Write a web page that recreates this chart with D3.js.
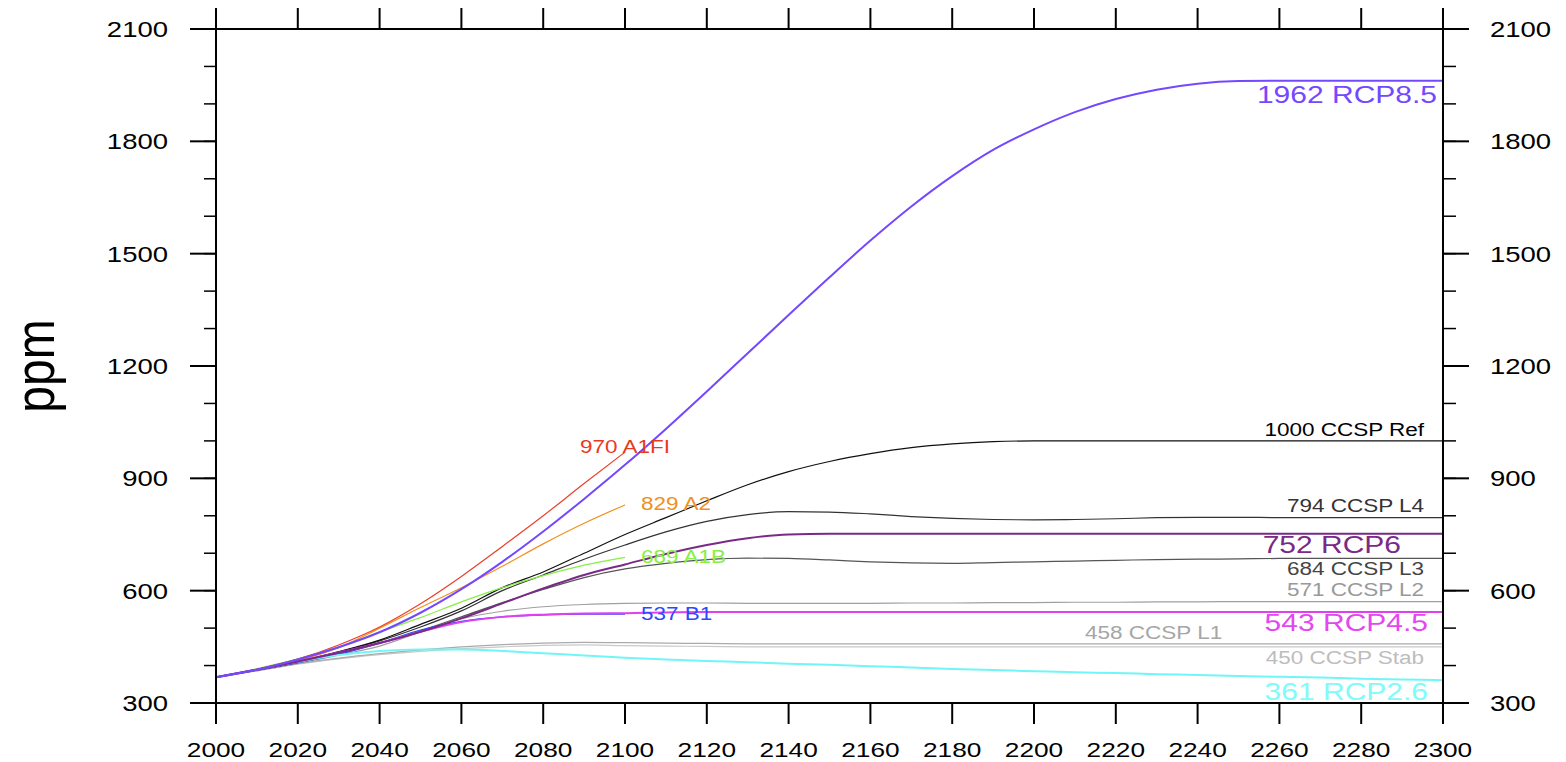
<!DOCTYPE html>
<html>
<head>
<meta charset="utf-8">
<script src="https://cdn.jsdelivr.net/npm/d3@7"></script>
<style>
html,body{margin:0;padding:0;background:#fff;}
svg{display:block;}
text{font-family:"Liberation Sans", Arial, Helvetica, sans-serif;}
</style>
</head>
<body>
<svg id="chart" width="1566" height="762"></svg>
<script>
// ---------------- data ----------------
const yearsShort = [2000,2010,2020,2030,2040,2050,2060,2070,2080,2090,2100];
const yearsLong = d3.range(2000, 2301, 10);

const ccspStab = [369,386,404,418,429,438,445,450,454,455,453,452,451,450,450,450,450,450,450,450,450,450,450,450,450,450,450,450,450,450,450];
const ccspL1   = [369,386,405,420,432,442,450,456,460,462,461,460,459,458,458,458,458,458,458,458,458,458,458,458,458,458,458,458,458,458,458];
const ccspL2   = [369,387,406,428,452,490,525,545,557,563,566,567,567,566,566,566,566,567,567,568,568,569,569,570,570,571,571,571,571,571,571];
const ccspL3   = [369,388,408,432,460,493,530,568,603,635,658,673,683,687,686,682,677,674,673,675,677,679,681,683,684,685,686,686,686,686,686];
const ccspL4   = [369,388,410,436,466,503,546,600,642,684,722,757,785,803,811,810,805,798,793,790,789,790,792,795,796,796,795,795,795,795,795];
const ccspRef  = [369,388,410,437,468,510,553,608,650,700,750,795,840,883,918,945,966,982,992,998,1000,1000,1000,1000,1000,1000,1000,1000,1000,1000,1000];

const sresB1   = [369,388,408,430,460,495,518,530,535,537,537];
const sresA1B  = [369,392,418,450,490,528,570,608,640,668,689];
const sresA2   = [369,388,413,448,500,555,608,665,725,780,829];
const sresA1FI = [369,390,417,455,503,565,638,718,800,886,970];

const rcp26 = [369,389,410,428,439,443,443,439,433,427,421,416,412,409,405,402,398,395,391,388,385,382,380,377,375,372,370,368,365,363,361];
const rcp45 = [369,389,411,435,460,490,516,530,536,539,540,542,543,543,543,543,543,543,543,543,543,543,543,543,543,543,543,543,543,543,543];
const rcp60 = [369,389,411,434,460,490,526,566,606,642,670,698,722,740,750,752,752,752,752,752,752,752,752,752,752,752,752,752,752,752,752];
const rcp85 = [369,389,416,449,489,541,604,677,758,845,936,1032,1132,1234,1336,1437,1535,1626,1707,1777,1832,1878,1913,1938,1954,1961,1962,1962,1962,1962,1962];

const xTicks = d3.range(2000, 2301, 20);
const yTicks = [300,600,900,1200,1500,1800,2100];
const yMinor = d3.range(300, 2101, 100);

const seriesNames = ["450 CCSP Stab","458 CCSP L1","571 CCSP L2","684 CCSP L3","794 CCSP L4","1000 CCSP Ref",
  "537 B1","689 A1B","829 A2","970 A1FI","361 RCP2.6","543 RCP4.5","752 RCP6","1962 RCP8.5"];

// ---------------- layout ----------------
const svg = d3.select("#chart");
const L = 216, R = 1443, T = 29, B = 703;
const x = d3.scaleLinear().domain([2000, 2300]).range([L, R]);
const y = d3.scaleLinear().domain([300, 2100]).range([B, T]);
const SX = 1.25; // horizontal text stretch

const series = [
  {name: seriesNames[0],  years: yearsLong,  vals: ccspStab, color: "#c9c9c9", w: 1.2, lc: "#bdbdbd", fs: 18, anchor: "end",   lx: 2300, dx: -19, dy: 17},
  {name: seriesNames[1],  years: yearsLong,  vals: ccspL1,   color: "#aaaaaa", w: 1.2, lc: "#a6a6a6", fs: 18, anchor: "end",   lx: 2246, dx: 0,   dy: -5},
  {name: seriesNames[2],  years: yearsLong,  vals: ccspL2,   color: "#a0a0a0", w: 1.2, lc: "#999999", fs: 18, anchor: "end",   lx: 2300, dx: -19, dy: -6},
  {name: seriesNames[3],  years: yearsLong,  vals: ccspL3,   color: "#555555", w: 1.2, lc: "#444444", fs: 18, anchor: "end",   lx: 2300, dx: -19, dy: 17},
  {name: seriesNames[4],  years: yearsLong,  vals: ccspL4,   color: "#333333", w: 1.2, lc: "#333333", fs: 18, anchor: "end",   lx: 2300, dx: -19, dy: -6},
  {name: seriesNames[5],  years: yearsLong,  vals: ccspRef,  color: "#111111", w: 1.2, lc: "#000000", fs: 18, anchor: "end",   lx: 2300, dx: -19, dy: -5},
  {name: seriesNames[6],  years: yearsShort, vals: sresB1,   color: "#2a48ff", w: 1.2, lc: "#2a48ff", fs: 18, anchor: "start", lx: 2100, dx: 16,  dy: 6},
  {name: seriesNames[7],  years: yearsShort, vals: sresA1B,  color: "#88ee44", w: 1.2, lc: "#88ee44", fs: 18, anchor: "start", lx: 2100, dx: 16,  dy: 6},
  {name: seriesNames[8],  years: yearsShort, vals: sresA2,   color: "#f0901e", w: 1.2, lc: "#f0901e", fs: 18, anchor: "start", lx: 2100, dx: 16,  dy: 5},
  {name: seriesNames[9],  years: yearsShort, vals: sresA1FI, color: "#e8402a", w: 1.2, lc: "#e8391e", fs: 18, anchor: "start", lx: 2100, dx: -45, dy: 1},
  {name: seriesNames[10], years: yearsLong,  vals: rcp26,    color: "#70f6f6", w: 2,   lc: "#80fafa", fs: 24, anchor: "end",   lx: 2300, dx: -15, dy: 20},
  {name: seriesNames[11], years: yearsLong,  vals: rcp45,    color: "#e040f0", w: 2,   lc: "#e348f0", fs: 24, anchor: "end",   lx: 2300, dx: -15, dy: 19},
  {name: seriesNames[12], years: yearsLong,  vals: rcp60,    color: "#7a2a86", w: 2,   lc: "#7a2a86", fs: 24, anchor: "end",   lx: 2300, dx: -42, dy: 19},
  {name: seriesNames[13], years: yearsLong,  vals: rcp85,    color: "#7448ff", w: 2,   lc: "#7448ff", fs: 24, anchor: "end",   lx: 2300, dx: -6,  dy: 22},
];

const line = d3.line().x(d => x(d[0])).y(d => y(d[1])).curve(d3.curveMonotoneX);

const gLines = svg.append("g");
series.forEach(s => {
  const pts = s.years.map((yr, i) => [yr, s.vals[i]]);
  gLines.append("path").datum(pts)
    .attr("d", line)
    .attr("fill", "none")
    .attr("stroke", s.color)
    .attr("stroke-width", s.w)
    .attr("stroke-linejoin", "round");
});

// labels
const gLab = svg.append("g");
series.forEach(s => {
  const last = s.vals[s.vals.length - 1];
  gLab.append("g")
    .attr("transform", `translate(${x(s.lx) + s.dx},${y(last) + s.dy}) scale(${SX},1)`)
    .append("text")
    .attr("text-anchor", s.anchor)
    .attr("font-size", s.fs)
    .attr("fill", s.lc)
    .text(s.name);
});

// ---------------- axes ----------------
const axG = svg.append("g").attr("stroke", "#000");
axG.append("rect").attr("x", L).attr("y", T).attr("width", R - L).attr("height", B - T)
  .attr("fill", "none").attr("stroke-width", 2);

xTicks.forEach(t => {
  axG.append("line").attr("x1", x(t)).attr("x2", x(t)).attr("y1", B).attr("y2", B + 21).attr("stroke-width", 2);
  axG.append("line").attr("x1", x(t)).attr("x2", x(t)).attr("y1", T).attr("y2", T - 21).attr("stroke-width", 2);
});
yMinor.forEach(t => {
  axG.append("line").attr("x1", L).attr("x2", L - 12).attr("y1", y(t)).attr("y2", y(t)).attr("stroke-width", 1.5);
  axG.append("line").attr("x1", R).attr("x2", R + 13).attr("y1", y(t)).attr("y2", y(t)).attr("stroke-width", 1.5);
});
yTicks.forEach(t => {
  axG.append("line").attr("x1", L).attr("x2", L - 26).attr("y1", y(t)).attr("y2", y(t)).attr("stroke-width", 2);
  axG.append("line").attr("x1", R).attr("x2", R + 26).attr("y1", y(t)).attr("y2", y(t)).attr("stroke-width", 2);
});

const tG = svg.append("g").attr("fill", "#000");
xTicks.forEach(t => {
  tG.append("g").attr("transform", `translate(${x(t)},757) scale(${SX},1)`)
    .append("text").attr("text-anchor", "middle").attr("font-size", 21).text(t);
});
yTicks.forEach(t => {
  tG.append("g").attr("transform", `translate(168,${y(t) + 8}) scale(${SX},1)`)
    .append("text").attr("text-anchor", "end").attr("font-size", 22).text(t);
  tG.append("g").attr("transform", `translate(1490,${y(t) + 8}) scale(${SX},1)`)
    .append("text").attr("text-anchor", "start").attr("font-size", 22).text(t);
});

// y title
tG.append("g").attr("transform", `translate(54,366) scale(1.15,1) rotate(-90)`)
  .append("text").attr("text-anchor", "middle").attr("font-size", 48).text("ppm");
</script>
</body>
</html>
